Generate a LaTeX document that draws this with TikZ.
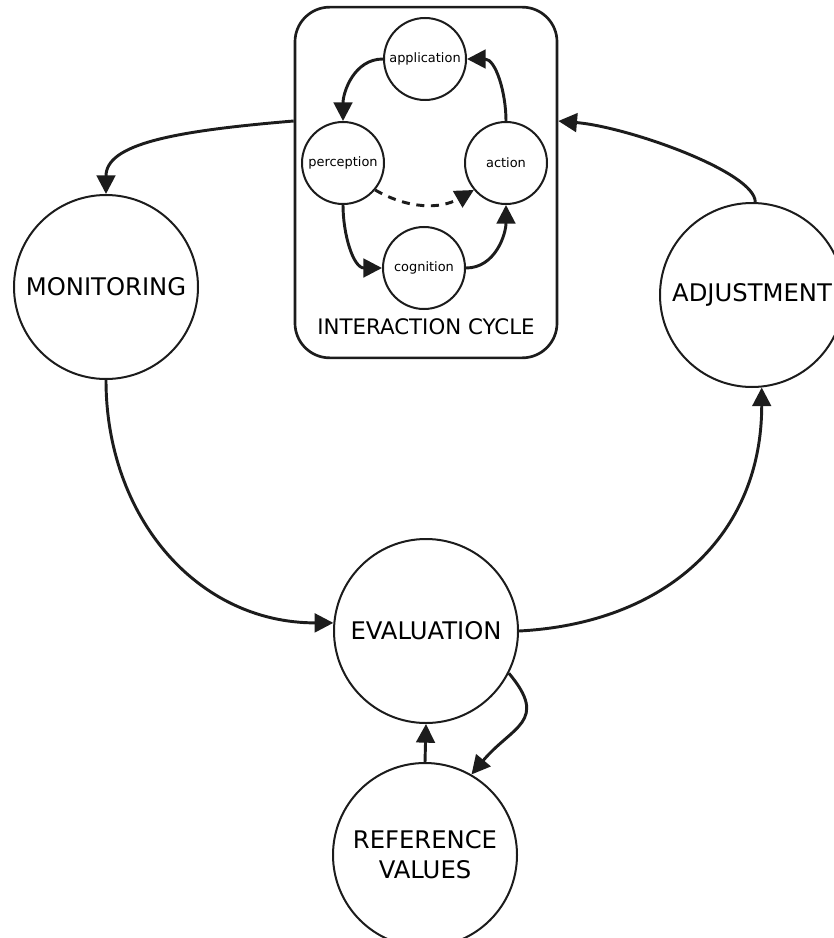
\documentclass[tikz,border=0pt]{standalone}
\usepackage{fontspec}
\setmainfont{DejaVu Sans}
\usepackage{xcolor}
\usepackage{tikz}
\usetikzlibrary{arrows.meta}
\definecolor{linec}{HTML}{1C1C1C}
\tikzset{
  bigc/.style={circle,draw=linec,line width=1.5pt,minimum size=138pt,inner sep=0pt,
    align=center,font=\fontsize{18.2}{22.5}\selectfont},
  smallc/.style={circle,draw=linec,line width=1.5pt,minimum size=61.5pt,inner sep=0pt,
    font=\fontsize{9.7}{11}\selectfont},
  flow/.style={draw=linec,line width=2.2pt,-{Triangle[length=14pt,width=14pt]}},
}

\begin{document}
\begin{tikzpicture}[x=0.75pt,y=0.75pt]
  \useasboundingbox (0,0) rectangle (834,-938);
  % interaction cycle box
  \node[draw=linec,line width=2pt,rounded corners=26pt,minimum width=196.5pt,
    minimum height=263pt] (cycle) at (426,-182.5) {};
  \node[font=\fontsize{16}{19}\selectfont] (cyclab) at (426,-326.5) {INTERACTION CYCLE};
  \foreach \n/\x/\y/\t in {app/425/59/application,perc/343/163/perception,
      act/506/163/action,cog/424/268/cognition}
    \node[smallc] (\n) at (\x,-\y) {\t};
  % outer loop
  \foreach \n/\x/\y/\t in {mon/106/287/MONITORING,adj/752/295/ADJUSTMENT,
      eval/426/631/EVALUATION,ref/425/855/{REFERENCE\\VALUES}}
    \node[bigc] (\n) at (\x,-\y) {\t};
  \coordinate (outL) at (cycle.west |- perc.north);
  \coordinate (inR) at (cycle.east |- act.north);

  \draw[flow] (app.west) to[out=180,in=90] (perc.north);
  \draw[flow] (perc.south) to[out=-90,in=180] (cog.west);
  \draw[flow] (cog.east) to[out=0,in=-90] (act.south);
  \draw[flow] (act.north) to[out=90,in=0] (app.east);
  \draw[flow,dash pattern=on 6pt off 5pt] (perc.-40) to[bend right=30] (act.-140);

  \draw[flow] (outL) .. controls +(-120,-10) and +(0,50) .. (mon.north);
  \draw[flow] (mon.south) to[out=-90,in=180,looseness=1.05] (eval.175);
  \draw[flow] (eval.east) to[out=3,in=-90,looseness=1.1] (adj.-84);
  \draw[flow] (adj.88) .. controls +(0,30) and +(70,-6) .. (inR);
  \draw[flow] (eval.-27) to[out=-50,in=50,looseness=1.5] (ref.60);
  \draw[flow] (ref.north) -- (eval.south);
\end{tikzpicture}
\end{document}
